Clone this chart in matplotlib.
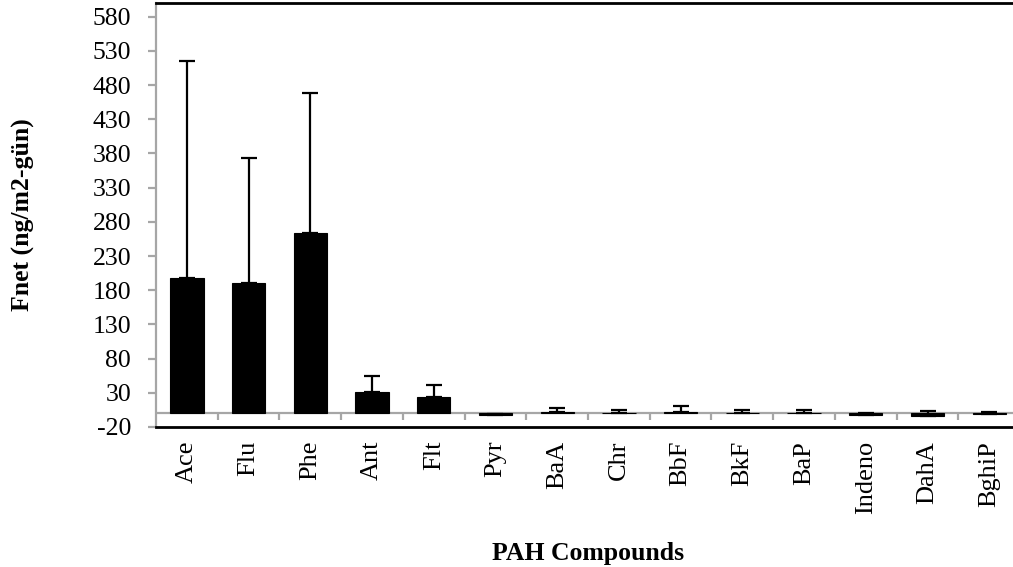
import numpy as np
import matplotlib
matplotlib.use('Agg')
import matplotlib.pyplot as plt

plt.rcParams['font.family'] = ['Liberation Serif', 'DejaVu Serif']
plt.rcParams['axes.unicode_minus'] = False

# veriler
compounds = ['Ace', 'Flu', 'Phe', 'Ant', 'Flt', 'Pyr', 'BaA', 'Chr',
             'BbF', 'BkF', 'BaP', 'Indeno', 'DahA', 'BghiP']
fnet = [198, 190, 264, 31, 24, -2, 2, 1, 2, 1, 1, -2, -4, -1]
fnet_err = [317, 184, 205, 24, 18, 1, 6, 4, 9, 4, 4, 3, 7, 3]
yticks = np.arange(-20, 581, 50)

fig = plt.figure(figsize=(10.13, 5.67), dpi=100)
ax = fig.add_axes([0.154, 0.247, 0.853, 0.7477])

x = np.arange(len(compounds))
ax.axhline(0, color='#a6a6a6', lw=1.6, zorder=1)
# kategori sinirlarindaki tik isaretleri
ax.vlines(x[1:] - 0.5, -10, 0, color='#a6a6a6', lw=1.6, zorder=1)

ax.bar(x, fnet, width=0.54, color='black', edgecolor='black', lw=0.8, zorder=2)
ax.errorbar(x, fnet, yerr=[np.zeros(len(fnet)), fnet_err], fmt='none',
            ecolor='black', elinewidth=1.6, capsize=6, capthick=1.6, zorder=3)

ax.set_xlim(-0.5, len(compounds) - 0.5)
ax.set_ylim(-20, 600)
ax.set_yticks(yticks)
ax.set_xticks(x)
ax.set_xticklabels(compounds, rotation=90, fontsize=19)
ax.tick_params(axis='x', length=0, pad=10)
ax.tick_params(axis='y', labelsize=18.5, color='#a6a6a6', width=1.6, length=6, pad=12)

for side in ['top', 'bottom', 'right']:
    ax.spines[side].set_color('black')
    ax.spines[side].set_linewidth(2)
ax.spines['left'].set_color('#a6a6a6')
ax.spines['left'].set_linewidth(1.6)

ax.set_ylabel('Fnet (ng/m2-gün)', fontsize=18.5, fontweight='bold')
ax.set_xlabel('PAH Compounds', fontsize=18.5, fontweight='bold', labelpad=20)
ax.yaxis.set_label_coords(-0.14, 0.5)

fig.savefig('out.png', dpi=100)
